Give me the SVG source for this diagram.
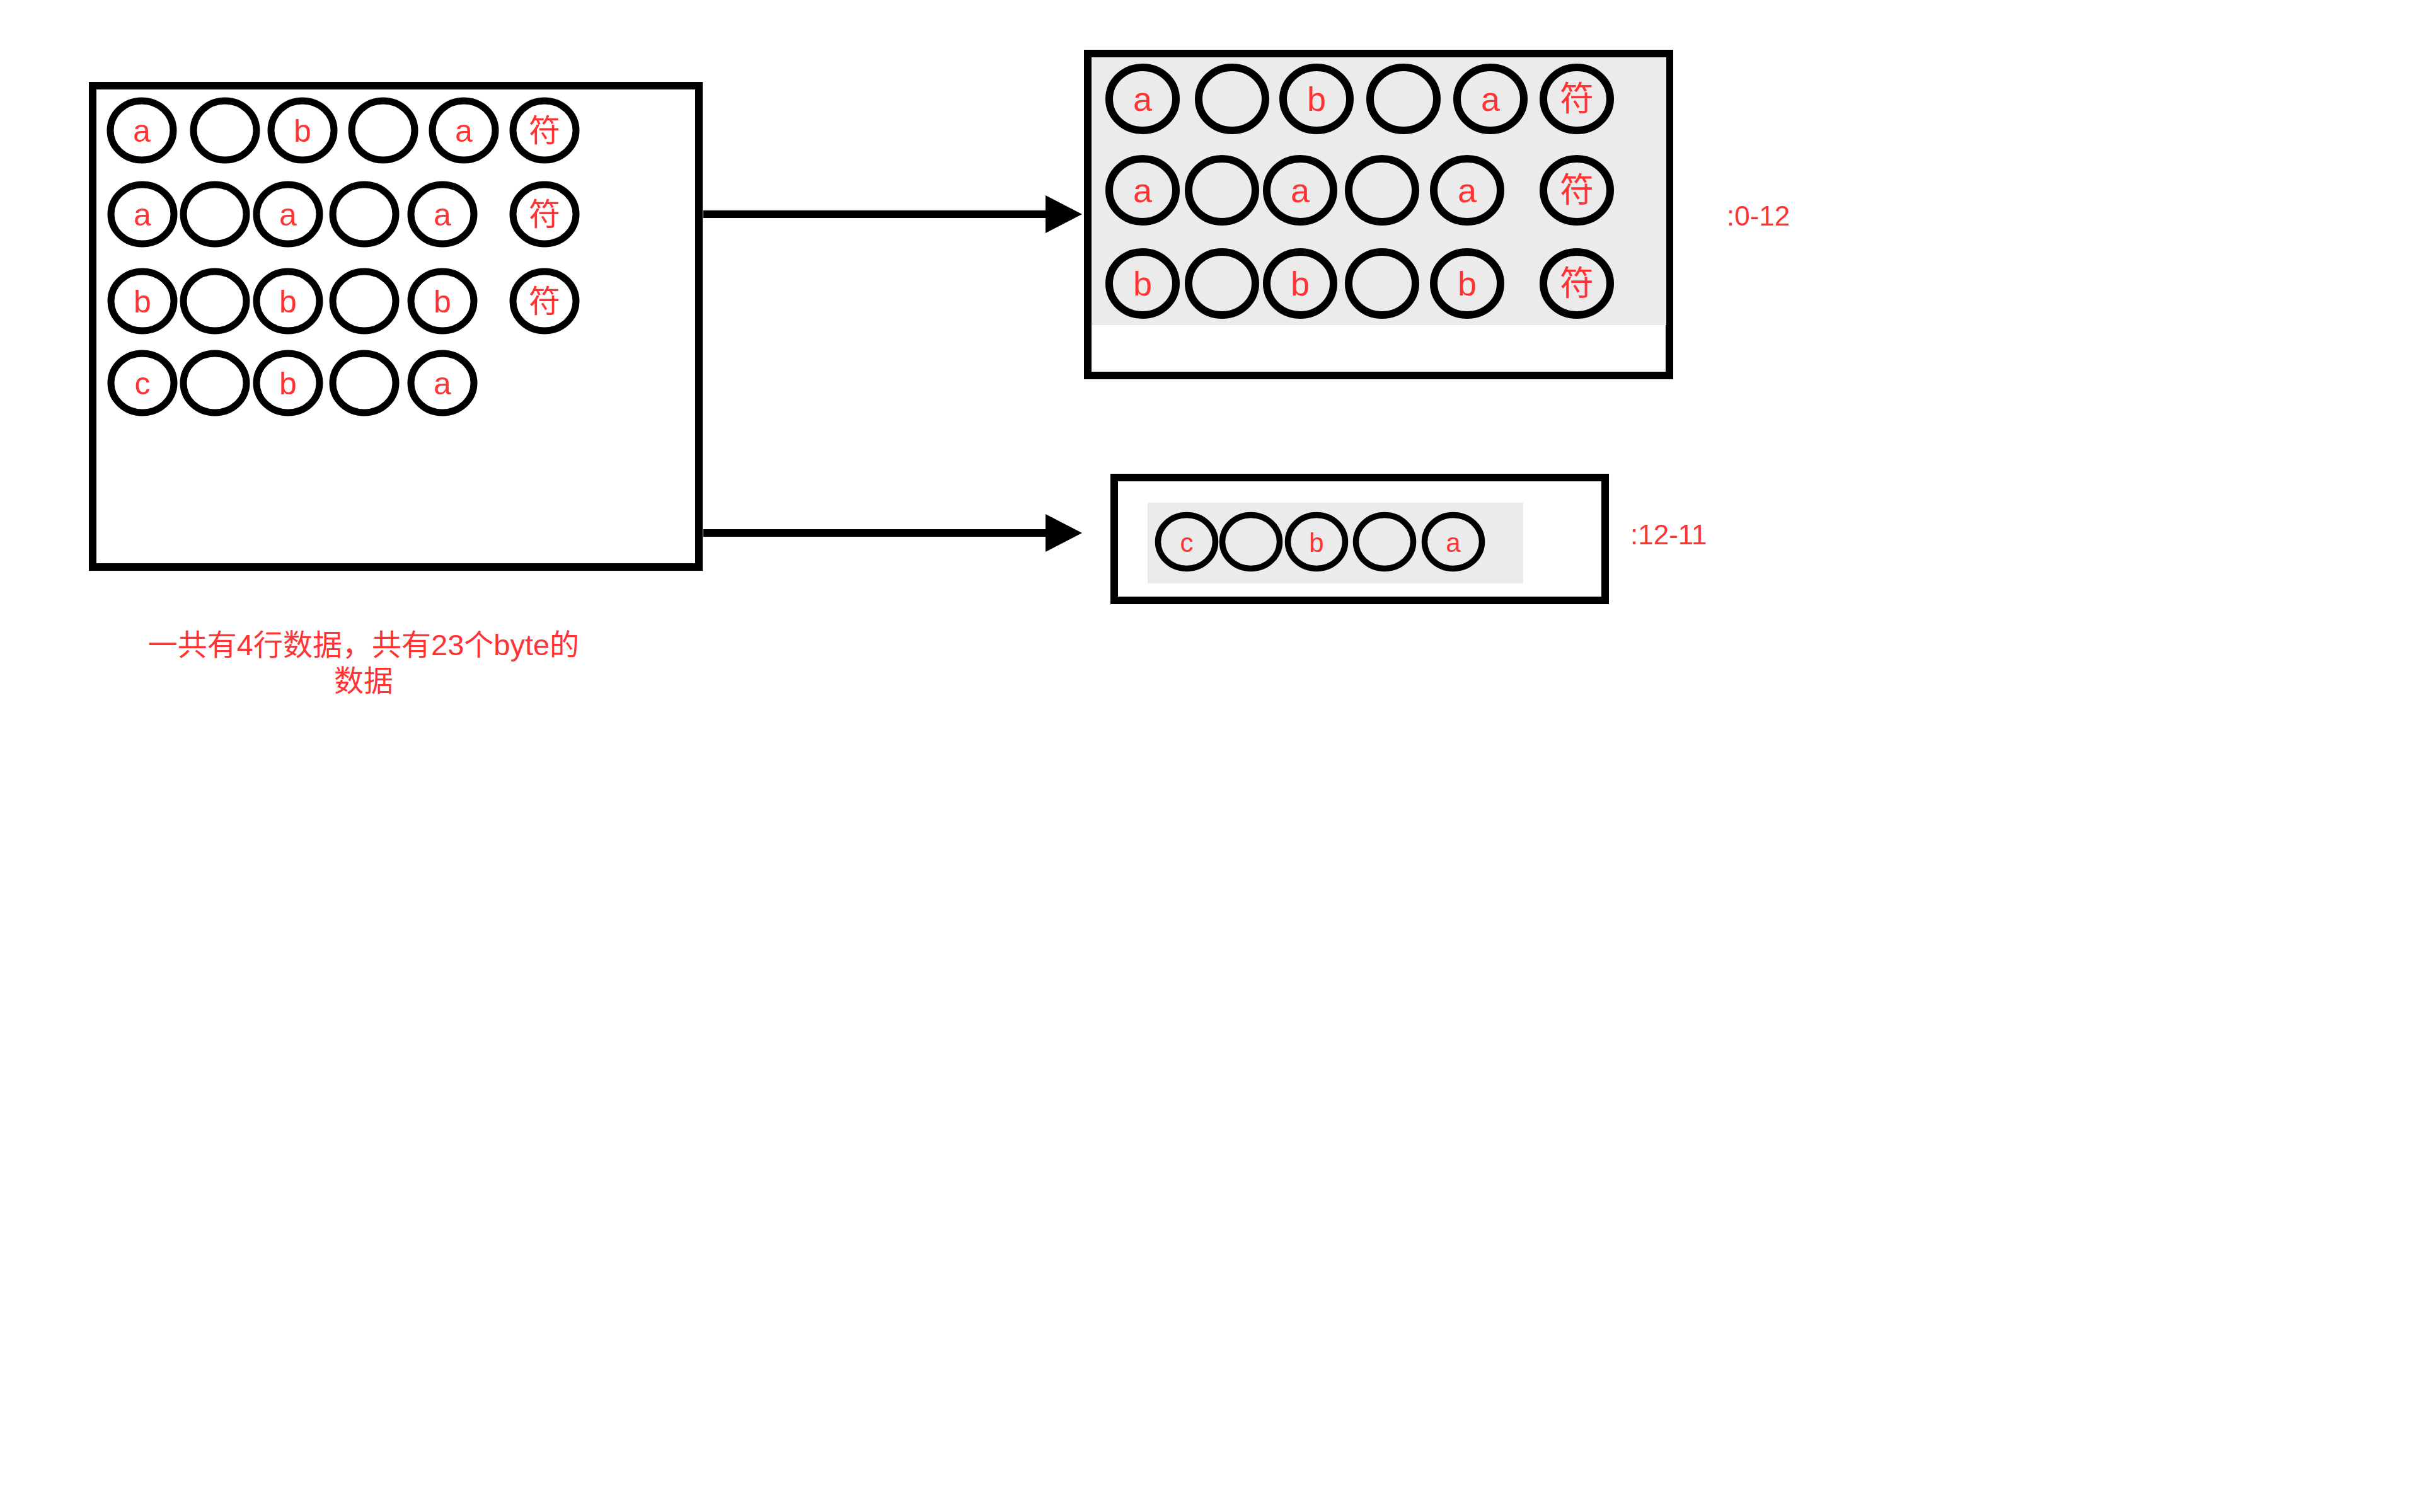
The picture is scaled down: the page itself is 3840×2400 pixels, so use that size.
<svg xmlns="http://www.w3.org/2000/svg" width="3840" height="2400" viewBox="0 0 3840 2400">
<style>
.box{fill:#FFFFFF;stroke:#000000;stroke-width:12}
.shade{fill:#EBEBEB;stroke:none}
.c1{fill:none;stroke:#000000;stroke-width:11}
.c2{fill:none;stroke:#000000;stroke-width:12}
.c3{fill:none;stroke:#000000;stroke-width:9.5}
.t{fill:#FF3333;font-family:"Liberation Sans","Noto Sans CJK SC",sans-serif;text-anchor:middle}
.t1{font-size:50px}
.t2{font-size:54px}
.t3{font-size:42px}
.lbl{fill:#FF3333;font-family:"Liberation Sans","Noto Sans CJK SC",sans-serif;font-size:44px}
.note{fill:#FF3333;font-family:"Liberation Sans","Noto Sans CJK SC",sans-serif;font-size:47px;text-anchor:middle}
.edge{stroke:#000000;stroke-width:12;fill:none}
</style>
<defs>
<marker id="arr" markerUnits="userSpaceOnUse" markerWidth="60" markerHeight="62" refX="3" refY="31" orient="auto" viewBox="0 0 60 62">
<path d="M0,1 L58,31 L0,61 Z" fill="#000000"/>
</marker>
</defs>
<rect width="3840" height="2400" fill="#FFFFFF"/>

<g id="source">
<rect class="box" x="147" y="136" width="962" height="764"/>
<g class="c1">
<ellipse cx="225" cy="207" rx="50" ry="47"/><ellipse cx="357" cy="207" rx="50" ry="47"/><ellipse cx="480" cy="207" rx="50" ry="47"/><ellipse cx="608" cy="207" rx="50" ry="47"/><ellipse cx="736" cy="207" rx="50" ry="47"/><ellipse cx="864" cy="207" rx="50" ry="47"/>
<ellipse cx="226" cy="340" rx="50" ry="47"/><ellipse cx="341" cy="340" rx="50" ry="47"/><ellipse cx="457" cy="340" rx="50" ry="47"/><ellipse cx="578" cy="340" rx="50" ry="47"/><ellipse cx="702" cy="340" rx="50" ry="47"/><ellipse cx="864" cy="340" rx="50" ry="47"/>
<ellipse cx="226" cy="478" rx="50" ry="47"/><ellipse cx="341" cy="478" rx="50" ry="47"/><ellipse cx="457" cy="478" rx="50" ry="47"/><ellipse cx="578" cy="478" rx="50" ry="47"/><ellipse cx="702" cy="478" rx="50" ry="47"/><ellipse cx="864" cy="478" rx="50" ry="47"/>
<ellipse cx="226" cy="608" rx="50" ry="47"/><ellipse cx="341" cy="608" rx="50" ry="47"/><ellipse cx="457" cy="608" rx="50" ry="47"/><ellipse cx="578" cy="608" rx="50" ry="47"/><ellipse cx="702" cy="608" rx="50" ry="47"/>
</g>
<g class="t t1">
<text x="225" y="225">a</text><text x="480" y="225">b</text><text x="736" y="225">a</text><text x="864" y="225">符</text>
<text x="226" y="358">a</text><text x="457" y="358">a</text><text x="702" y="358">a</text><text x="864" y="358">符</text>
<text x="226" y="496">b</text><text x="457" y="496">b</text><text x="702" y="496">b</text><text x="864" y="496">符</text>
<text x="226" y="626">c</text><text x="457" y="626">b</text><text x="702" y="626">a</text>
</g>
</g>

<g id="note">
<text class="note" x="577" y="1040">一共有4行数据，共有23个byte的</text>
<text class="note" x="577" y="1097">数据</text>
</g>

<g id="part1">
<rect class="box" x="1726" y="85" width="923" height="511"/>
<rect class="shade" x="1732" y="91" width="912" height="425"/>
<g class="c2">
<ellipse cx="1813" cy="157" rx="53" ry="50"/><ellipse cx="1955" cy="157" rx="53" ry="50"/><ellipse cx="2089" cy="157" rx="53" ry="50"/><ellipse cx="2227" cy="157" rx="53" ry="50"/><ellipse cx="2365" cy="157" rx="53" ry="50"/><ellipse cx="2502" cy="157" rx="53" ry="50"/>
<ellipse cx="1813" cy="302" rx="53" ry="50"/><ellipse cx="1939" cy="302" rx="53" ry="50"/><ellipse cx="2063" cy="302" rx="53" ry="50"/><ellipse cx="2193" cy="302" rx="53" ry="50"/><ellipse cx="2328" cy="302" rx="53" ry="50"/><ellipse cx="2502" cy="302" rx="53" ry="50"/>
<ellipse cx="1813" cy="450" rx="53" ry="50"/><ellipse cx="1939" cy="450" rx="53" ry="50"/><ellipse cx="2063" cy="450" rx="53" ry="50"/><ellipse cx="2193" cy="450" rx="53" ry="50"/><ellipse cx="2328" cy="450" rx="53" ry="50"/><ellipse cx="2502" cy="450" rx="53" ry="50"/>
</g>
<g class="t t2">
<text x="1813" y="176">a</text><text x="2089" y="176">b</text><text x="2365" y="176">a</text><text x="2502" y="176">符</text>
<text x="1813" y="321">a</text><text x="2063" y="321">a</text><text x="2328" y="321">a</text><text x="2502" y="321">符</text>
<text x="1813" y="469">b</text><text x="2063" y="469">b</text><text x="2328" y="469">b</text><text x="2502" y="469">符</text>
</g>
<text class="lbl" x="2740" y="358">:0-12</text>
</g>

<g id="part2">
<rect class="box" x="1768" y="758" width="779" height="195"/>
<rect class="shade" x="1821" y="798" width="596" height="128"/>
<g class="c3">
<ellipse cx="1883" cy="860" rx="45.5" ry="42.5"/><ellipse cx="1985" cy="860" rx="45.5" ry="42.5"/><ellipse cx="2089" cy="860" rx="45.5" ry="42.5"/><ellipse cx="2197" cy="860" rx="45.5" ry="42.5"/><ellipse cx="2306" cy="860" rx="45.5" ry="42.5"/>
</g>
<g class="t t3">
<text x="1883" y="876">c</text><text x="2089" y="876">b</text><text x="2306" y="876">a</text>
</g>
<text class="lbl" x="2587" y="864">:12-11</text>
</g>

<g id="connectors">
<line class="edge" x1="1116" y1="340" x2="1662" y2="340" marker-end="url(#arr)"/>
<line class="edge" x1="1116" y1="846" x2="1662" y2="846" marker-end="url(#arr)"/>
</g>
</svg>
